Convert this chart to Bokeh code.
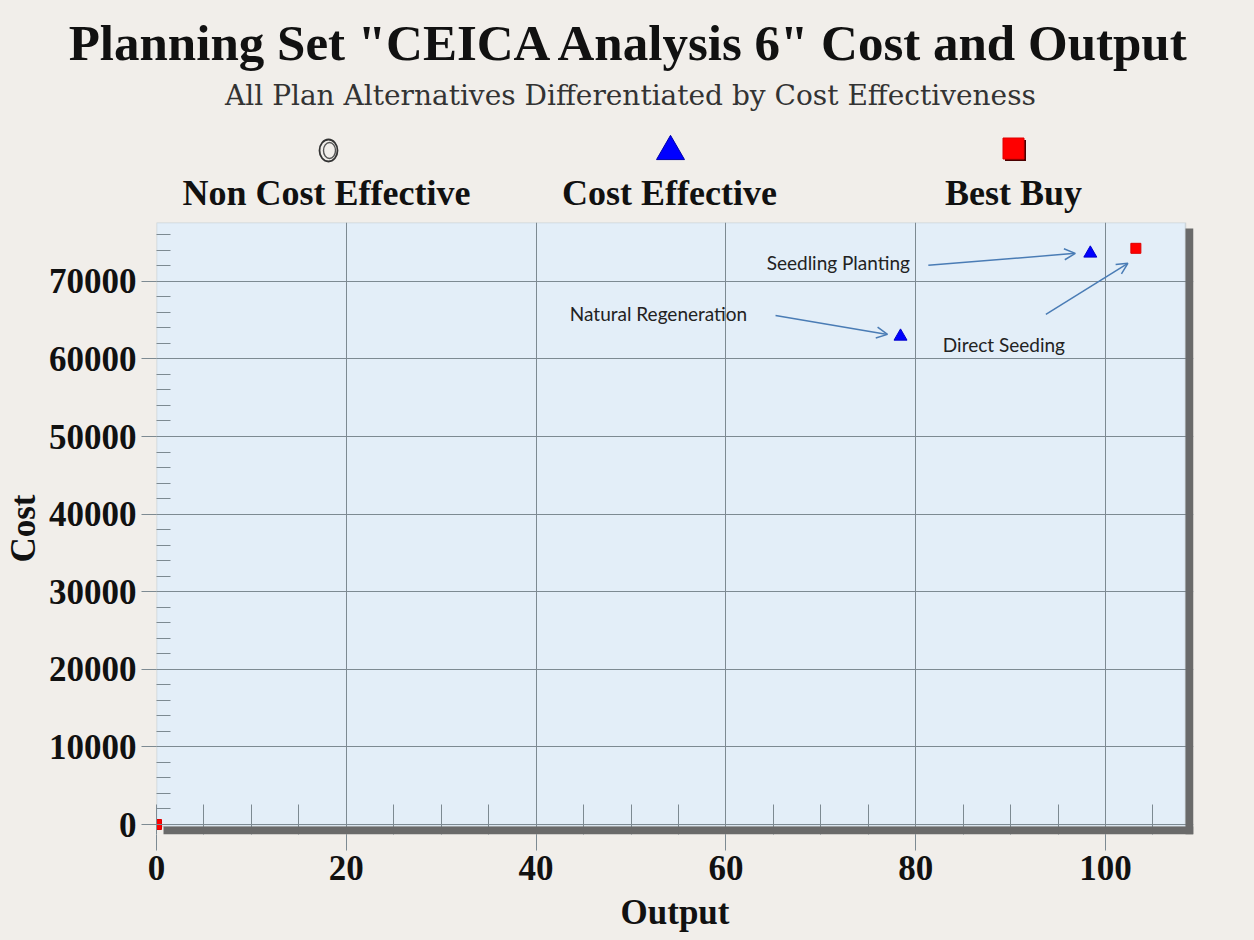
from bokeh.plotting import figure
from bokeh.layouts import column
from bokeh.models import (Range1d, Label, Arrow, OpenHead, BoxAnnotation, SingleIntervalTicker)
from bokeh.core.properties import value
from bokeh.embed import file_html
from bokeh.resources import INLINE

# ---------------- data ----------------
plan_names = ["No Action", "Natural Regeneration", "Seedling Planting", "Direct Seeding"]
plan_output = [0.0, 78.4, 98.4, 103.2]
plan_cost = [0, 62900, 73600, 74250]
plan_class = ["Best Buy", "Cost Effective", "Cost Effective", "Best Buy"]
legend_labels = ["Non Cost Effective", "Cost Effective", "Best Buy"]
x_ticks = [0, 20, 40, 60, 80, 100]
y_ticks = [0, 10000, 20000, 30000, 40000, 50000, 60000, 70000]

# ---------------- style ----------------
PAGE = "#f1eeea"
PLOT_BG = "#e3eef8"
GRID = "#7d8a92"
SHADOW = "#6a6a6a"
SERIF = "Liberation Serif"
W = 1254
HEAD_H = 218
MAIN_H = 940 - HEAD_H
BL, BT, BR, BB = 156, 4, 61, 106
FRAME_W = W - BL - BR            # includes 8px shadow
FRAME_H = MAIN_H - BT - BB       # includes 8px shadow
PX_PER_X = 9.49                  # pixels per output unit
PX_PER_Y = 77.6 / 10000          # pixels per cost unit
SH = 8                           # shadow size, px
X0 = 0.0
X1 = X0 + FRAME_W / PX_PER_X
Y1 = 602 / PX_PER_Y              # top of plot area
Y0 = Y1 - FRAME_H / PX_PER_Y
PLOT_RIGHT = X1 - SH / PX_PER_X
PLOT_BOTTOM = Y0 + SH / PX_PER_Y

# ---------------- header (title, subtitle, legend) ----------------
h = figure(width=W, height=HEAD_H, x_range=Range1d(0, W), y_range=Range1d(HEAD_H, 0),
           output_backend="svg", toolbar_location=None, min_border=0,
           background_fill_color=PAGE, border_fill_color=PAGE)
h.axis.visible = False
h.grid.visible = False
h.outline_line_color = None

h.text(x=[630], y=[42], text=['Planning Set "CEICA Analysis 6" Cost and Output'],
       text_font=value(SERIF), text_font_style="bold", text_font_size="51px",
       text_align="center", text_baseline="middle", text_color="#111111")
h.text(x=[630], y=[95], text=["All Plan Alternatives Differentiated by Cost Effectiveness"],
       text_font=value("DejaVu Serif"), text_font_size="28px",
       text_align="center", text_baseline="middle", text_color="#333333")
leg_x = [326, 669, 1013]
h.text(x=leg_x, y=[192] * 3, text=legend_labels,
       text_font=value(SERIF), text_font_style="bold", text_font_size="36px",
       text_align="center", text_baseline="middle", text_color="#111111")
h.ellipse(x=[leg_x[0] + 2], y=[150], width=18, height=22, fill_color=None,
          line_color="#333333", line_width=1.8)
h.ellipse(x=[leg_x[0] + 3], y=[150], width=12, height=16, fill_color=None,
          line_color="#555555", line_width=1.4)
h.scatter(x=[leg_x[1] + 1], y=[151], marker="triangle", size=28,
          fill_color="#0000ff", line_color="#0000aa")
h.scatter(x=[leg_x[2] + 2], y=[150], marker="square", size=21,
          fill_color="#4a0000", line_color=None)
h.scatter(x=[leg_x[2]], y=[148], marker="square", size=21,
          fill_color="#ff0000", line_color="#e00000")

# ---------------- main plot ----------------
p = figure(width=W, height=MAIN_H, x_range=Range1d(X0, X1), y_range=Range1d(Y0, Y1),
           output_backend="svg", toolbar_location=None,
           min_border_left=BL, min_border_right=BR, min_border_top=BT, min_border_bottom=BB,
           background_fill_color=PAGE, border_fill_color=PAGE)
p.outline_line_color = None

for f in (h, p):
    if "frame_align" in f.properties():
        f.frame_align = False

# plot area background and outline
p.add_layout(BoxAnnotation(left=X0, right=PLOT_RIGHT, bottom=PLOT_BOTTOM, top=Y1,
                           fill_color=PLOT_BG, fill_alpha=1, line_color="#8f9ca3", line_width=1.5,
                           level="image"))

p.xaxis.ticker = SingleIntervalTicker(interval=20, num_minor_ticks=4)
p.yaxis.ticker = SingleIntervalTicker(interval=10000, num_minor_ticks=5)
p.xgrid.ticker = SingleIntervalTicker(interval=20)
p.ygrid.ticker = SingleIntervalTicker(interval=10000)
for ax in (p.xaxis[0], p.yaxis[0]):
    ax.axis_line_color = None
    ax.major_tick_line_color = GRID
    ax.minor_tick_line_color = GRID
    ax.major_tick_in = 0
    ax.minor_tick_out = 0
    ax.major_label_text_font = SERIF
    ax.major_label_text_font_style = "bold"
    ax.major_label_text_font_size = "35px"
    ax.major_label_text_color = "#111111"
    ax.axis_label_text_font = SERIF
    ax.axis_label_text_font_style = "bold"
    ax.axis_label_text_font_size = "35px"
    ax.axis_label_text_color = "#111111"
p.xaxis.major_tick_out = 16
p.xaxis.minor_tick_in = 30
p.xaxis.major_label_standoff = 5
p.xaxis.axis_label = "Output"
p.xaxis.axis_label_standoff = 10
p.yaxis.major_tick_out = 15
p.yaxis.minor_tick_in = 14
p.yaxis.major_label_standoff = 5
p.yaxis.axis_label = "Cost"
p.yaxis.axis_label_standoff = 3
p.yaxis.major_label_orientation = "horizontal"
p.grid.grid_line_color = GRID
p.grid.grid_line_width = 1

# drop shadow (right and bottom)
p.add_layout(BoxAnnotation(left=PLOT_RIGHT, right=X1, bottom=Y0, top=Y1 - 6 / PX_PER_Y,
                           fill_color=SHADOW, fill_alpha=1, line_color=None, level="annotation"))
p.add_layout(BoxAnnotation(left=X0 + 7 / PX_PER_X, right=X1, bottom=Y0, top=PLOT_BOTTOM,
                           fill_color=SHADOW, fill_alpha=1, line_color=None, level="annotation"))

# ---------------- points ----------------
ce = [i for i, c in enumerate(plan_class) if c == "Cost Effective"]
bb = [i for i, c in enumerate(plan_class) if c == "Best Buy"]
p.scatter(x=[plan_output[i] for i in ce], y=[plan_cost[i] for i in ce], marker="triangle",
          size=13, fill_color="#0000ff", line_color="#0000cc")
p.scatter(x=[plan_output[i] for i in bb], y=[plan_cost[i] for i in bb], marker="square",
          size=10, fill_color="#ff0000", line_color="#dd0000")

# annotations: label / arrow offsets in screen pixels relative to the point
ann = {
    "Natural Regeneration": dict(lab=(-242, 23), a0=(-125, 21), a1=(-13, 2)),
    "Seedling Planting": dict(lab=(-252, -9), a0=(-162, -12), a1=(-15, 0)),
    "Direct Seeding": dict(lab=(-132, -96), a0=(-90, -66), a1=(-8, -15)),
}
for name, a in ann.items():
    i = plan_names.index(name)
    px, py = plan_output[i], plan_cost[i]
    p.add_layout(Label(x=px, y=py, x_offset=a["lab"][0], y_offset=a["lab"][1], text=name,
                       text_font="Lato", text_font_size="19px", text_color="#222222",
                       text_align="center", text_baseline="middle"))
    p.add_layout(Arrow(x_start=px + a["a0"][0] / PX_PER_X, y_start=py + a["a0"][1] / PX_PER_Y,
                       x_end=px + a["a1"][0] / PX_PER_X, y_end=py + a["a1"][1] / PX_PER_Y,
                       line_color="#4a7cb5", line_width=1.5,
                       end=OpenHead(size=11, line_color="#4a7cb5", line_width=1.5)))

layout = column(h, p, spacing=0, styles={"background-color": PAGE})
open("out.html", "w").write(file_html(layout, INLINE))
